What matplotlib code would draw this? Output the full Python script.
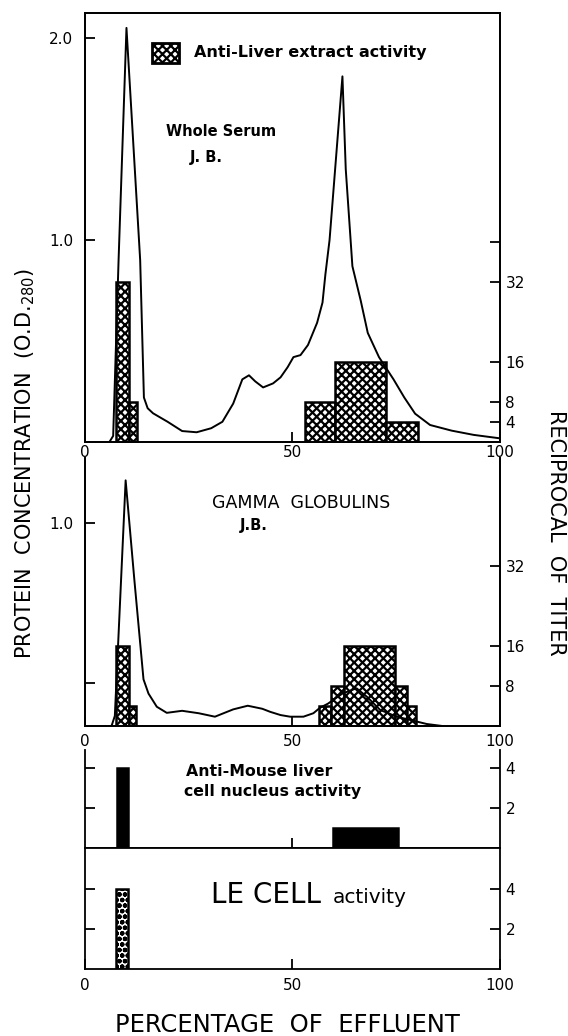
import numpy as np
import matplotlib.pyplot as plt
from matplotlib.patches import Rectangle

plt.rcParams['font.family'] = 'DejaVu Sans'
plt.rcParams['hatch.linewidth'] = 1.6
plt.rcParams['hatch.color'] = 'black'

# --- panel 1 : whole serum, protein curve (O.D.) ---
p1_x = [6.0, 6.9, 8.2, 10.1, 13.4, 14.3, 15.2, 16.5, 20.0, 23.5, 27.0, 30.5, 33.2, 35.8, 38.0,
        39.6, 41.1, 43.0, 45.4, 47.2, 48.9, 50.3, 52.0, 53.8, 56.0, 57.3, 58.0, 59.0, 62.1,
        62.9, 64.5, 66.5, 68.2, 70.9, 74.4, 77.0, 79.6, 83.2, 88.4, 93.7, 100]
p1_od = [0, 0.03, 0.9, 2.05, 0.9, 0.22, 0.167, 0.142, 0.10, 0.054, 0.048, 0.068, 0.10, 0.19, 0.31,
         0.33, 0.30, 0.27, 0.29, 0.32, 0.37, 0.42, 0.43, 0.48, 0.59, 0.69, 0.83, 1.0, 1.81,
         1.35, 0.87, 0.70, 0.54, 0.42, 0.31, 0.22, 0.14, 0.084, 0.056, 0.035, 0.018]
# anti-liver extract activity (titer)
p1_left = [7.6, 10.8, 53.0, 60.2, 72.6]
p1_right = [10.8, 12.6, 60.2, 72.6, 80.2]
p1_titer = [32, 8, 8, 16, 4]

# --- panel 2 : gamma globulins ---
p2_x = [6.5, 7.3, 8.8, 9.9, 12.0, 14.2, 15.4, 17.4, 19.8, 23.5, 27.5, 31.4, 35.8, 39.3, 42.8,
        44.7, 47.2, 49.5, 52.7, 55.1, 56.7, 58.6, 62.1, 65.5, 68.0, 71.2, 75.2, 78.4, 82.4, 86.2]
p2_od = [0, 0.05, 0.72, 1.21, 0.72, 0.23, 0.16, 0.095, 0.065, 0.075, 0.063, 0.046, 0.082, 0.10, 0.085,
         0.07, 0.054, 0.046, 0.046, 0.063, 0.09, 0.11, 0.16, 0.186, 0.144, 0.079, 0.046, 0.03, 0.01, 0]
p2_left = [7.6, 10.8, 56.5, 59.4, 62.5, 74.8, 77.6]
p2_right = [10.8, 12.4, 59.4, 62.5, 74.8, 77.6, 79.7]
p2_titer = [16, 4, 4, 8, 16, 8, 4]

# --- panel 3 : anti-mouse liver cell nucleus activity ---
p3_left = [7.9, 59.9]
p3_right = [10.5, 75.4]
p3_titer = [4, 1]

# --- panel 4 : LE cell activity ---
p4_left = [7.6]
p4_right = [10.5]
p4_titer = [4]

fig = plt.figure(figsize=(5.68, 10.36), dpi=100)
L, W = 0.1488, 0.7312
ax1 = fig.add_axes([L, 0.5734, W, 0.4141])
ax2 = fig.add_axes([L, 0.2992, W, 0.2587])
ax3 = fig.add_axes([L, 0.1818, W, 0.0943])
ax4 = fig.add_axes([L, 0.0644, W, 0.1174])


def style(ax):
    ax.set_xlim(0, 100)
    ax.tick_params(direction='in', length=7, width=1.3, labelsize=11)
    for sp in ax.spines.values():
        sp.set_linewidth(1.3)


def bars(ax, left, right, h, **kw):
    w = np.array(right) - np.array(left)
    ax.bar(left, h, width=w, align='edge', edgecolor='black', linewidth=1.8, **kw)


# panel 1
t1 = ax1.twinx()
bars(t1, p1_left, p1_right, p1_titer, facecolor='white', hatch='xxxx')
ax1.plot(p1_x, p1_od, color='black', lw=1.4)
ax1.set_zorder(t1.get_zorder() + 1)
ax1.patch.set_visible(False)
ax1.set_ylim(0, 2.124)
t1.set_ylim(0, 85.8)
for a in (ax1, t1):
    style(a)
ax1.set_yticks([1.0, 2.0], ['1.0', '2.0'])
ax1.tick_params(axis='y', pad=8)
t1.set_yticks([4, 8, 16, 32, 40], ['4', '8', '16', '32', ''])
t1.tick_params(axis='y', pad=4)
ax1.set_xticks([0, 50, 100], ['0', '50', '100'])
ax1.tick_params(axis='x', pad=2)
ax1.add_patch(Rectangle((16.3, 1.876), 6.5, 0.099, facecolor='white', edgecolor='black',
                        hatch='xxxx', lw=2))
ax1.text(26.4, 1.926, 'Anti-Liver extract activity', fontsize=11.5, fontweight='bold', va='center')
ax1.text(32.9, 1.535, 'Whole Serum', fontsize=10.5, fontweight='bold', ha='center', va='center')
ax1.text(29.4, 1.41, 'J. B.', fontsize=10.5, fontweight='bold', ha='center', va='center')

# panel 2
t2 = ax2.twinx()
bars(t2, p2_left, p2_right, p2_titer, facecolor='white', hatch='xxxx')
ax2.plot(p2_x, p2_od, color='black', lw=1.4)
ax2.set_zorder(t2.get_zorder() + 1)
ax2.patch.set_visible(False)
ax2.set_ylim(0, 1.32)
t2.set_ylim(0, 53.6)
for a in (ax2, t2):
    style(a)
    a.spines['top'].set_visible(False)
ax2.set_yticks([0.21, 1.0], ['', '1.0'])
ax2.tick_params(axis='y', pad=8)
t2.set_yticks([8, 16, 32], ['8', '16', '32'])
t2.tick_params(axis='y', pad=4)
ax2.set_xticks([0, 50, 100], ['0', '50', '100'])
ax2.tick_params(axis='x', pad=6)
ax2.text(52.1, 1.099, 'GAMMA  GLOBULINS', fontsize=12.5, ha='center', va='center')
ax2.text(40.7, 0.99, 'J.B.', fontsize=10.5, fontweight='bold', ha='center', va='center')

# panel 3
bars(ax3, p3_left, p3_right, p3_titer, facecolor='black')
style(ax3)
ax3.spines['top'].set_visible(False)
ax3.set_ylim(0, 4.885)
ax3.yaxis.set_ticks_position('both')
ax3.set_yticks([2, 4], ['2', '4'])
ax3.tick_params(axis='y', labelleft=False, labelright=True, pad=4)
ax3.set_xticks([50], [''])
ax3.text(24.4, 3.8, 'Anti-Mouse liver', fontsize=11.3, fontweight='bold', va='center')
ax3.text(24.0, 2.8, 'cell nucleus activity', fontsize=11.3, fontweight='bold', va='center')

# panel 4
bars(ax4, p4_left, p4_right, p4_titer, facecolor='white', hatch='ooo')
style(ax4)
ax4.set_ylim(0, 6.08)
ax4.yaxis.set_ticks_position('both')
ax4.set_yticks([2, 4], ['2', '4'])
ax4.tick_params(axis='y', labelleft=False, labelright=True, pad=4)
ax4.set_xticks([0, 50, 100], ['0', '50', '100'])
ax4.tick_params(axis='x', pad=6)
ax4.text(30.5, 3.3, 'LE CELL', fontsize=20, va='baseline')
ax4.text(59.8, 3.3, 'activity', fontsize=14.5, va='baseline')

fig.text(25 / 568, 1 - 464 / 1036, 'PROTEIN  CONCENTRATION  (O.D.$_{280}$)', rotation=90,
         fontsize=15, ha='center', va='center')
fig.text(556 / 568, 1 - 533 / 1036, 'RECIPROCAL  OF  TITER', rotation=270,
         fontsize=15, ha='center', va='center')
fig.text(287 / 568, 1 - 1025 / 1036, 'PERCENTAGE  OF  EFFLUENT', fontsize=17.5,
         ha='center', va='center')

fig.savefig('out.png', dpi=100)
